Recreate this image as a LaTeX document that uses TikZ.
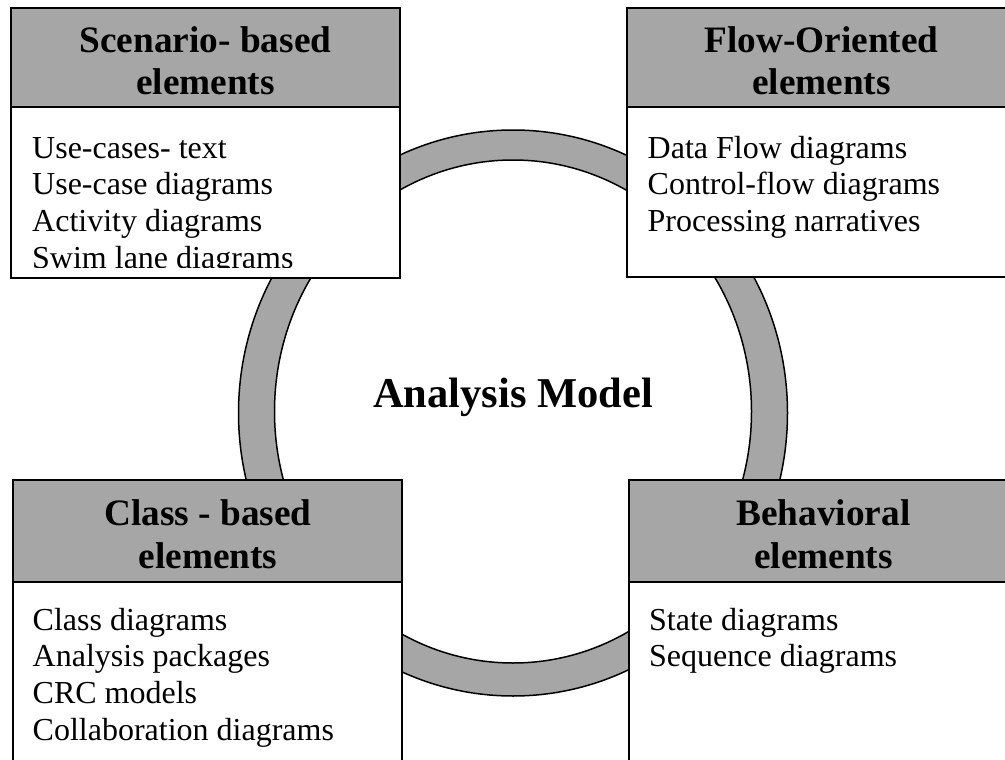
\documentclass[tikz,border=0pt]{standalone}
\usepackage{fontspec}
\setmainfont{Liberation Serif}
\definecolor{panelgray}{RGB}{166,166,166}
\begin{document}
\begin{tikzpicture}[x=1pt,y=-1pt,
  panelbody/.style={draw=black, fill=white, line width=2pt, rectangle,
    inner sep=0pt, outer sep=0pt, anchor=north west, minimum width=389pt},
  panelhead/.style={draw=black, fill=panelgray, line width=2pt, rectangle,
    inner sep=0pt, outer sep=0pt, anchor=north west, minimum width=389pt},
  headtext/.style={anchor=base, inner sep=0pt,
    font=\fontsize{37.3}{42}\selectfont\bfseries},
  itemtext/.style={anchor=base west, inner sep=0pt,
    font=\fontsize{32}{37}\selectfont},
  titletext/.style={anchor=base, inner sep=0pt,
    font=\fontsize{42.5}{48}\selectfont\bfseries},
  ringline/.style={draw=black, line width=1.5pt}
]
\useasboundingbox (0,0) rectangle (1005,760);
\clip (0,0) rectangle (1005,760);

% the ring behind the four panels
\fill[panelgray, even odd rule]
  (513,413) ellipse [x radius=274.5pt, y radius=283pt]
  (513,411.5) ellipse [x radius=238.5pt, y radius=251.5pt];
\draw[ringline] (513,413) ellipse [x radius=274.5pt, y radius=283pt];
\draw[ringline] (513,411.5) ellipse [x radius=238.5pt, y radius=251.5pt];

% scenario-based panel
\node[panelbody, minimum height=270pt] (scBody) at (11,8) {};
\node[panelhead, minimum height=99pt] (scHead) at (11,8) {};
\node[headtext] (scT1) at (205.5,53) {Scenario- based};
\node[headtext] (scT2) at (205.5,95) {elements};
\begin{scope}
  \clip (11,8) rectangle (400,267);
  \foreach \t [count=\i from 0] in {Use-cases- text, Use-case diagrams,
      Activity diagrams, Swim lane diagrams}
    \node[itemtext] (sc\i) at (32,{158+36.7*\i}) {\t};
\end{scope}

% flow-oriented panel
\node[panelbody, minimum height=269pt] (flBody) at (627,8) {};
\node[panelhead, minimum height=99pt] (flHead) at (627,8) {};
\node[headtext] (flT1) at (821.5,53) {Flow-Oriented};
\node[headtext] (flT2) at (821.5,95) {elements};
\foreach \t [count=\i from 0] in {Data Flow diagrams, Control-flow diagrams,
    Processing narratives}
  \node[itemtext] (fl\i) at (647.5,{158+36.7*\i}) {\t};

% class-based panel
\node[panelbody, minimum height=330pt] (clBody) at (13,480) {};
\node[panelhead, minimum height=102pt] (clHead) at (13,480) {};
\node[headtext] (clT1) at (208,525.5) {Class - based};
\node[headtext] (clT2) at (208,568) {elements};
\foreach \t [count=\i from 0] in {Class diagrams, Analysis packages,
    CRC models, Collaboration diagrams}
  \node[itemtext] (cl\i) at (32.5,{630+36.7*\i}) {\t};

% behavioral panel
\node[panelbody, minimum height=330pt] (bhBody) at (629,480) {};
\node[panelhead, minimum height=102pt] (bhHead) at (629,480) {};
\node[headtext] (bhT1) at (823.5,525.5) {Behavioral};
\node[headtext] (bhT2) at (823.5,568) {elements};
\foreach \t [count=\i from 0] in {State diagrams, Sequence diagrams}
  \node[itemtext] (bh\i) at (649,{630+36.7*\i}) {\t};

% centre label
\node[titletext] (model) at (513,407) {Analysis Model};
\end{tikzpicture}
\end{document}
